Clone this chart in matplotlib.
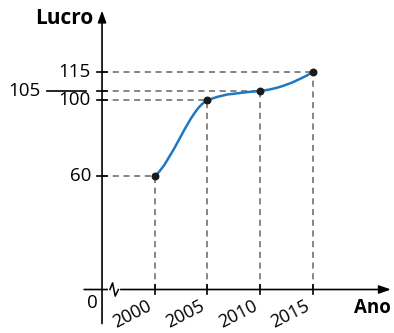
import matplotlib.pyplot as plt
import numpy as np
from matplotlib.patches import PathPatch
from matplotlib.path import Path

# data
anos = np.array([2000, 2005, 2010, 2015])
lucro = np.array([60, 100, 105, 115])
# slope of the drawn curve at each point (lucro per year)
inclinacao = np.array([4.5, 2.4, 0.6, 3.3])
x_labels = ["2000", "2005", "2010", "2015"]
y_labels = ["60", "100", "115"]
y_label_values = [60, 100, 115]

X0 = 1995  # where the (broken) horizontal axis starts

plt.rcParams["font.family"] = ["Open Sans", "DejaVu Sans"]

fig = plt.figure(figsize=(3.94, 3.33), dpi=100)
ax = fig.add_axes([0, 0, 1, 1])
ax.set_xlim(1985.32, 2022.70)
ax.set_ylim(-23.0, 153.1)
ax.axis("off")

axis_kw = dict(color="black", lw=1.2)
dash_kw = dict(color="#666666", lw=1.1, ls=(0, (4, 3)))
arrow = dict(arrowstyle="-|>,head_length=0.7,head_width=0.25",
             color="black", lw=1.2, shrinkA=0, shrinkB=0)

# axes with arrows
ax.annotate("", xy=(X0, 147.5), xytext=(X0, -18.0), arrowprops=arrow)
ax.annotate("", xy=(2022.4, 0), xytext=(1993.3, 0), arrowprops=arrow)

# break mark on the horizontal axis
ax.plot([1995.8, 1996.5], [0, 0], color="white", lw=3, zorder=3)
ax.plot([1995.75, 1996.0, 1996.25, 1996.55], [0, 3.5, -3.5, 0],
        color="black", lw=1.1, zorder=4)

# dashed guides
for xv, yv in zip(anos, lucro):
    ax.plot([X0, xv], [yv, yv], **dash_kw)
    ax.plot([xv, xv], [0, yv], **dash_kw)

# ticks
for xv in anos:
    ax.plot([xv, xv], [-2.5, 2.5], **axis_kw)
for yv in lucro:
    ax.plot([X0 - 0.5, X0 + 0.5], [yv, yv], **axis_kw)

# smooth curve: cubic bezier segments through the points
verts = [(anos[0], lucro[0])]
codes = [Path.MOVETO]
for k in range(len(anos) - 1):
    h = anos[k + 1] - anos[k]
    verts += [(anos[k] + h / 3, lucro[k] + inclinacao[k] * h / 3),
              (anos[k + 1] - h / 3, lucro[k + 1] - inclinacao[k + 1] * h / 3),
              (anos[k + 1], lucro[k + 1])]
    codes += [Path.CURVE4] * 3
ax.add_patch(PathPatch(Path(verts, codes), fill=False, edgecolor="#1f78c1",
                       lw=1.8, zorder=5))
ax.scatter(anos, lucro, s=22, color="#1a1a1a", zorder=6)

# tick labels
fs = 13.5
for xv, lab in zip(anos, x_labels):
    ax.annotate(lab, (xv, 0), xytext=(0, -5.5), textcoords="offset points",
                rotation=27, ha="right", va="top", fontsize=13)
for yv, lab in zip(y_label_values, y_labels):
    ax.annotate(lab, (X0, yv), xytext=(-8, 0), textcoords="offset points",
                ha="right", va="center", fontsize=fs)
ax.annotate("105", (X0, 105), xytext=(-44, 0), textcoords="offset points",
            ha="right", va="center", fontsize=fs)
ax.plot([X0 - 5.2, X0 - 1.5], [105, 105], **axis_kw)

ax.annotate("0", (X0, 0), xytext=(-7, -3), textcoords="offset points",
            ha="center", va="top", fontsize=fs)
ax.annotate("Lucro", (X0, 147.5), xytext=(-6, -6), textcoords="offset points",
            ha="right", va="center", fontsize=15, fontweight="bold")
ax.annotate("Ano", (2022.4, 0), xytext=(0, -6), textcoords="offset points",
            ha="right", va="top", fontsize=fs, fontweight="bold")

fig.savefig("out.png", dpi=100)
